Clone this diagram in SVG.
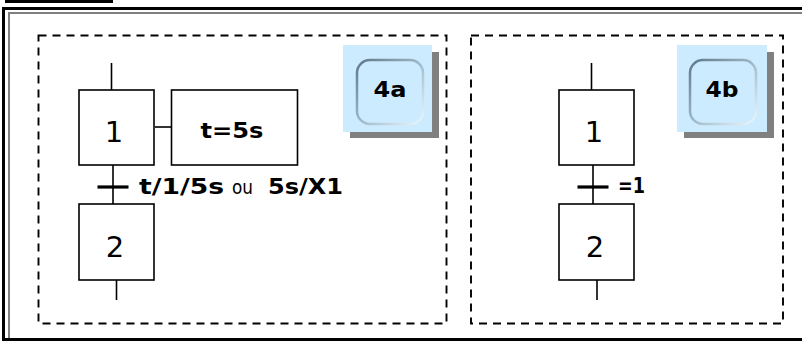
<svg xmlns="http://www.w3.org/2000/svg" width="802" height="342" viewBox="0 0 802 342">
<defs>
<linearGradient id="emb" x1="0" y1="0" x2="1" y2="1">
<stop offset="0" stop-color="#5f7788"/>
<stop offset="0.5" stop-color="#9fb8c8"/>
<stop offset="1" stop-color="#eaf8ff"/>
</linearGradient>
</defs>
<style>
.frame{fill:#000}
.gray{fill:#808080}
.dash{fill:none;stroke:#000;stroke-width:1.9;stroke-dasharray:8 6}
.step{fill:#fff;stroke:#000;stroke-width:1.6}
.link{stroke:#000;stroke-width:1.6;fill:none}
.bar{stroke:#000;stroke-width:3.2}
.num{font-family:"DejaVu Sans",sans-serif;font-size:29px;text-anchor:middle;fill:#000}
.bold{font-family:"DejaVu Sans",sans-serif;font-weight:bold;font-size:21px;fill:#000}
.norm{font-family:"DejaVu Sans",sans-serif;font-size:19px;fill:#000}
.lbl{fill:#ccebff}
.shadow{fill:#808080}
.inner{fill:#ccebff;stroke:url(#emb);stroke-width:2.5}
</style>
<g id="frame">
<rect class="frame" x="5" y="0" width="108" height="3"/>
<rect class="frame" x="2" y="7" width="800" height="3"/>
<rect class="frame" x="2" y="7" width="3" height="334"/>
<rect class="frame" x="2" y="338" width="800" height="3"/>
<rect class="gray" x="8" y="12" width="794" height="2"/>
<rect class="gray" x="8" y="12" width="2" height="326"/>
<rect class="dash" x="38.5" y="35.5" width="408" height="288"/>
<rect class="dash" x="471" y="35.5" width="312" height="288"/>
</g>
<g id="connectors">
<line class="link" x1="111.5" y1="63" x2="111.5" y2="90"/>
<line class="link" x1="113" y1="165" x2="113" y2="204"/>
<line class="bar" x1="97.5" y1="187" x2="128.5" y2="187"/>
<line class="link" x1="116.5" y1="280" x2="116.5" y2="300"/>
<line class="link" x1="155" y1="127" x2="171" y2="127"/>
<line class="link" x1="591.5" y1="63" x2="591.5" y2="90"/>
<line class="link" x1="593" y1="165" x2="593" y2="204"/>
<line class="bar" x1="577.5" y1="187" x2="608.5" y2="187"/>
<line class="link" x1="597" y1="280" x2="597" y2="300"/>
<text class="bold" x="139" y="194" textLength="85" lengthAdjust="spacingAndGlyphs">t/1/5s</text>
<text class="norm" x="232" y="194" textLength="21" lengthAdjust="spacingAndGlyphs">ou</text>
<text class="bold" x="268" y="194" textLength="75" lengthAdjust="spacingAndGlyphs">5s/X1</text>
<text class="bold" x="618" y="193" textLength="27" lengthAdjust="spacingAndGlyphs">=1</text>
</g>
<g id="step1a">
<rect class="step" x="79" y="90" width="75" height="75"/>
<text class="num" x="114" y="142">1</text>
</g>
<g id="action1a">
<rect class="step" x="171.5" y="90" width="126" height="75"/>
<text class="bold" x="232" y="138" text-anchor="middle" font-size="22" textLength="63" lengthAdjust="spacingAndGlyphs">t=5s</text>
</g>
<g id="step2a">
<rect class="step" x="79" y="204" width="75" height="76"/>
<text class="num" x="115" y="257">2</text>
</g>
<g id="label4a">
<rect class="shadow" x="350" y="52" width="89" height="86"/>
<rect class="lbl" x="343" y="45" width="89" height="87"/>
<rect class="inner" x="357" y="60" width="66" height="64" rx="13"/>
<text class="bold" x="390" y="97" text-anchor="middle" textLength="33" lengthAdjust="spacingAndGlyphs">4a</text>
</g>
<g id="step1b">
<rect class="step" x="559" y="90" width="75" height="75"/>
<text class="num" x="594" y="142">1</text>
</g>
<g id="step2b">
<rect class="step" x="559" y="204" width="75" height="76"/>
<text class="num" x="595" y="257">2</text>
</g>
<g id="label4b">
<rect class="shadow" x="684" y="52" width="90" height="86"/>
<rect class="lbl" x="677" y="45" width="90" height="87"/>
<rect class="inner" x="690" y="60" width="66" height="64" rx="13"/>
<text class="bold" x="722" y="97" text-anchor="middle" textLength="33" lengthAdjust="spacingAndGlyphs">4b</text>
</g>
</svg>
